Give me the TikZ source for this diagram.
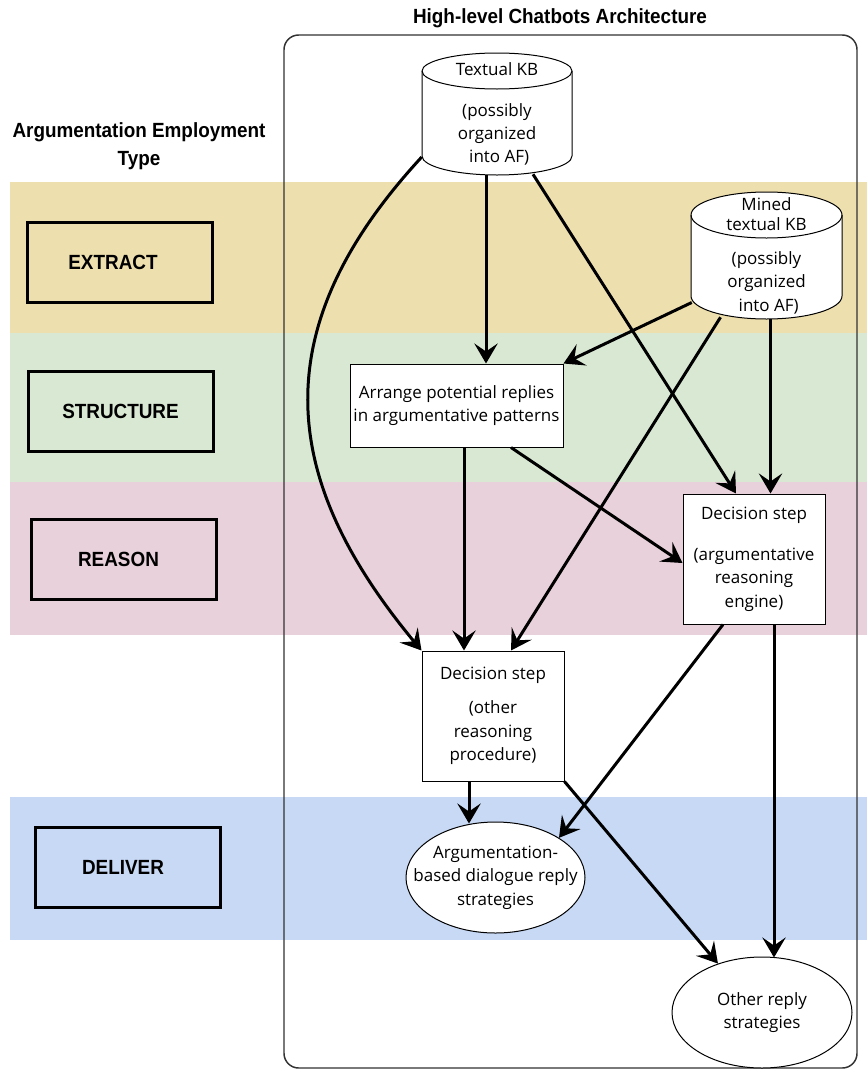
\documentclass[tikz,border=0pt]{standalone}
\usepackage{fontspec}
\setmainfont{Open Sans}
\newfontfamily\headfont[FakeStretch=0.92]{Liberation Sans}
\usetikzlibrary{shapes.geometric,arrows.meta,calc}
\definecolor{extractc}{RGB}{238,224,174}
\definecolor{structc}{RGB}{217,232,211}
\definecolor{reasonc}{RGB}{233,209,220}
\definecolor{deliverc}{RGB}{199,217,244}
\definecolor{framec}{RGB}{50,50,50}
\newcommand{\hf}{\headfont\bfseries\fontsize{15.4pt}{21pt}\selectfont}
\newcommand{\nf}{\fontsize{12.75pt}{17.6pt}\selectfont}
\begin{document}
\begin{tikzpicture}[x=0.75pt,y=-0.75pt,
  typebox/.style={draw, line width=2.25pt, minimum width=185*0.75pt, minimum height=80*0.75pt, font=\hf, inner sep=0pt},
  procbox/.style={draw, fill=white, line width=0.75pt, align=center, font=\nf, inner sep=0pt},
  ellbox/.style={ellipse, draw, fill=white, line width=0.75pt, inner sep=0pt},
  cyltext/.style={inner sep=0pt, align=center, font=\nf},
  cylst/.style={draw=black, fill=white, line width=0.75pt},
  conn/.style={line width=2.25pt, -{Stealth[length=15pt,width=17.5pt,inset=6pt]}},
  frame/.style={draw=framec, line width=1.1pt, rounded corners=11pt}
]
\useasboundingbox (0,0) rectangle (867,1071);
\fill[white] (0,0) rectangle (867,1071);
% bands
\fill[extractc] (10,182) rectangle (867,333);
\fill[structc] (10,333) rectangle (867,482);
\fill[reasonc] (10,482) rectangle (867,635);
\fill[deliverc] (10,797) rectangle (867,940);
% frame
\draw[frame] (284,35) rectangle (857,1068);
% headers
\node[font=\hf, align=center, inner sep=0pt] (hdr) at (139,146) {Argumentation Employment\\Type};
\node[font=\hf, inner sep=0pt] (title) at (560,18) {High-level Chatbots Architecture};
% type boxes
\node[typebox] (extract) at (119.5,262) {EXTRACT\hspace*{9.75pt}};
\node[typebox] (structure) at (120.5,411.5) {STRUCTURE};
\node[typebox] (reason) at (123.5,559.5) {REASON\hspace*{7.5pt}};
\node[typebox] (deliver) at (128,867) {DELIVER\hspace*{7.5pt}};
% Textual KB cylinder
\path[cylst] (422,71) -- (422,156) arc[start angle=180,end angle=360,x radius=56.25pt,y radius=14.25pt] -- (572,71) arc[start angle=0,end angle=180,x radius=56.25pt,y radius=13.5pt] -- cycle;
\draw[line width=0.75pt] (422,71) arc[start angle=180,end angle=360,x radius=56.25pt,y radius=13.5pt];
\node[cyltext, minimum width=150*0.75pt, minimum height=124*0.75pt] (tkb) at (497,114) {Textual KB\\[13pt](possibly\\organized\\\ into AF)};
% Mined KB cylinder
\path[cylst] (691,215) -- (691,296) arc[start angle=180,end angle=360,x radius=56.625pt,y radius=17.25pt] -- (842,215) arc[start angle=0,end angle=180,x radius=56.625pt,y radius=17.25pt] -- cycle;
\draw[line width=0.75pt] (691,215) arc[start angle=180,end angle=360,x radius=56.625pt,y radius=17.25pt];
\node[cyltext, minimum width=151*0.75pt, minimum height=127*0.75pt] (mkb) at (766.5,255.5) {Mined\\[-2.5pt]textual KB\\[8pt](possibly\\organized\\\ into AF)};
% process boxes
\node[procbox, minimum width=213*0.75pt, minimum height=83*0.75pt] (arr) at (456.5,405.5) {Arrange potential replies\\in argumentative patterns};
\node[procbox, minimum width=142*0.75pt, minimum height=130*0.75pt] (rdec) at (754,559) {Decision step\\[13.5pt](argumentative\\reasoning\\engine)};
\node[procbox, minimum width=142*0.75pt, minimum height=130*0.75pt] (ldec) at (493,716) {Decision step\\[8.25pt](other\\reasoning\\procedure)};
% ellipses
\node[ellbox, minimum width=179*0.75pt, minimum height=111*0.75pt,
  label={[font=\nf, align=center, inner sep=0pt]center:Argumentation-\\based dialogue reply\\strategies}] (ae) at (495.5,877.5) {};
\node[ellbox, minimum width=180*0.75pt, minimum height=111*0.75pt,
  label={[font=\nf, align=center, inner sep=0pt]center:Other reply\\strategies}] (oe) at (762,1012.5) {};
% connectors
\draw[conn] ($(tkb.south)+(-11,-1)$) -- ($(arr.north)+(29.5,0)$);
\draw[conn] ($(tkb.west)+(0,43)$) .. controls (262,330) and (280,480) .. (ldec.north west);
\draw[conn] ($(tkb.south)+(36,-2)$) -- ($(rdec.north)+(-18,0)$);
\draw[conn] ($(mkb.west)+(1,47)$) -- (arr.north east);
\draw[conn] ($(mkb.south)+(-46,-2)$) -- ($(ldec.north)+(18,0)$);
\draw[conn] ($(mkb.south)+(4,0)$) -- ($(rdec.north)+(16.5,0)$);
\draw[conn] ($(arr.south)+(54.5,0)$) -- ($(rdec.west)+(0,4)$);
\draw[conn] ($(arr.south)+(7.5,0)$) -- ($(ldec.north)+(-29,0)$);
\draw[conn] ($(rdec.south)+(-31,0)$) -- (ae.32);
\draw[conn] ($(rdec.south)+(20,0)$) -- ($(oe.north)+(12,1)$);
\draw[conn] ($(ldec.south)+(-24,0)$) -- ($(ae.north)+(-26.5,2)$);
\draw[conn] (ldec.south east) -- (oe.132);
\end{tikzpicture}
\end{document}
